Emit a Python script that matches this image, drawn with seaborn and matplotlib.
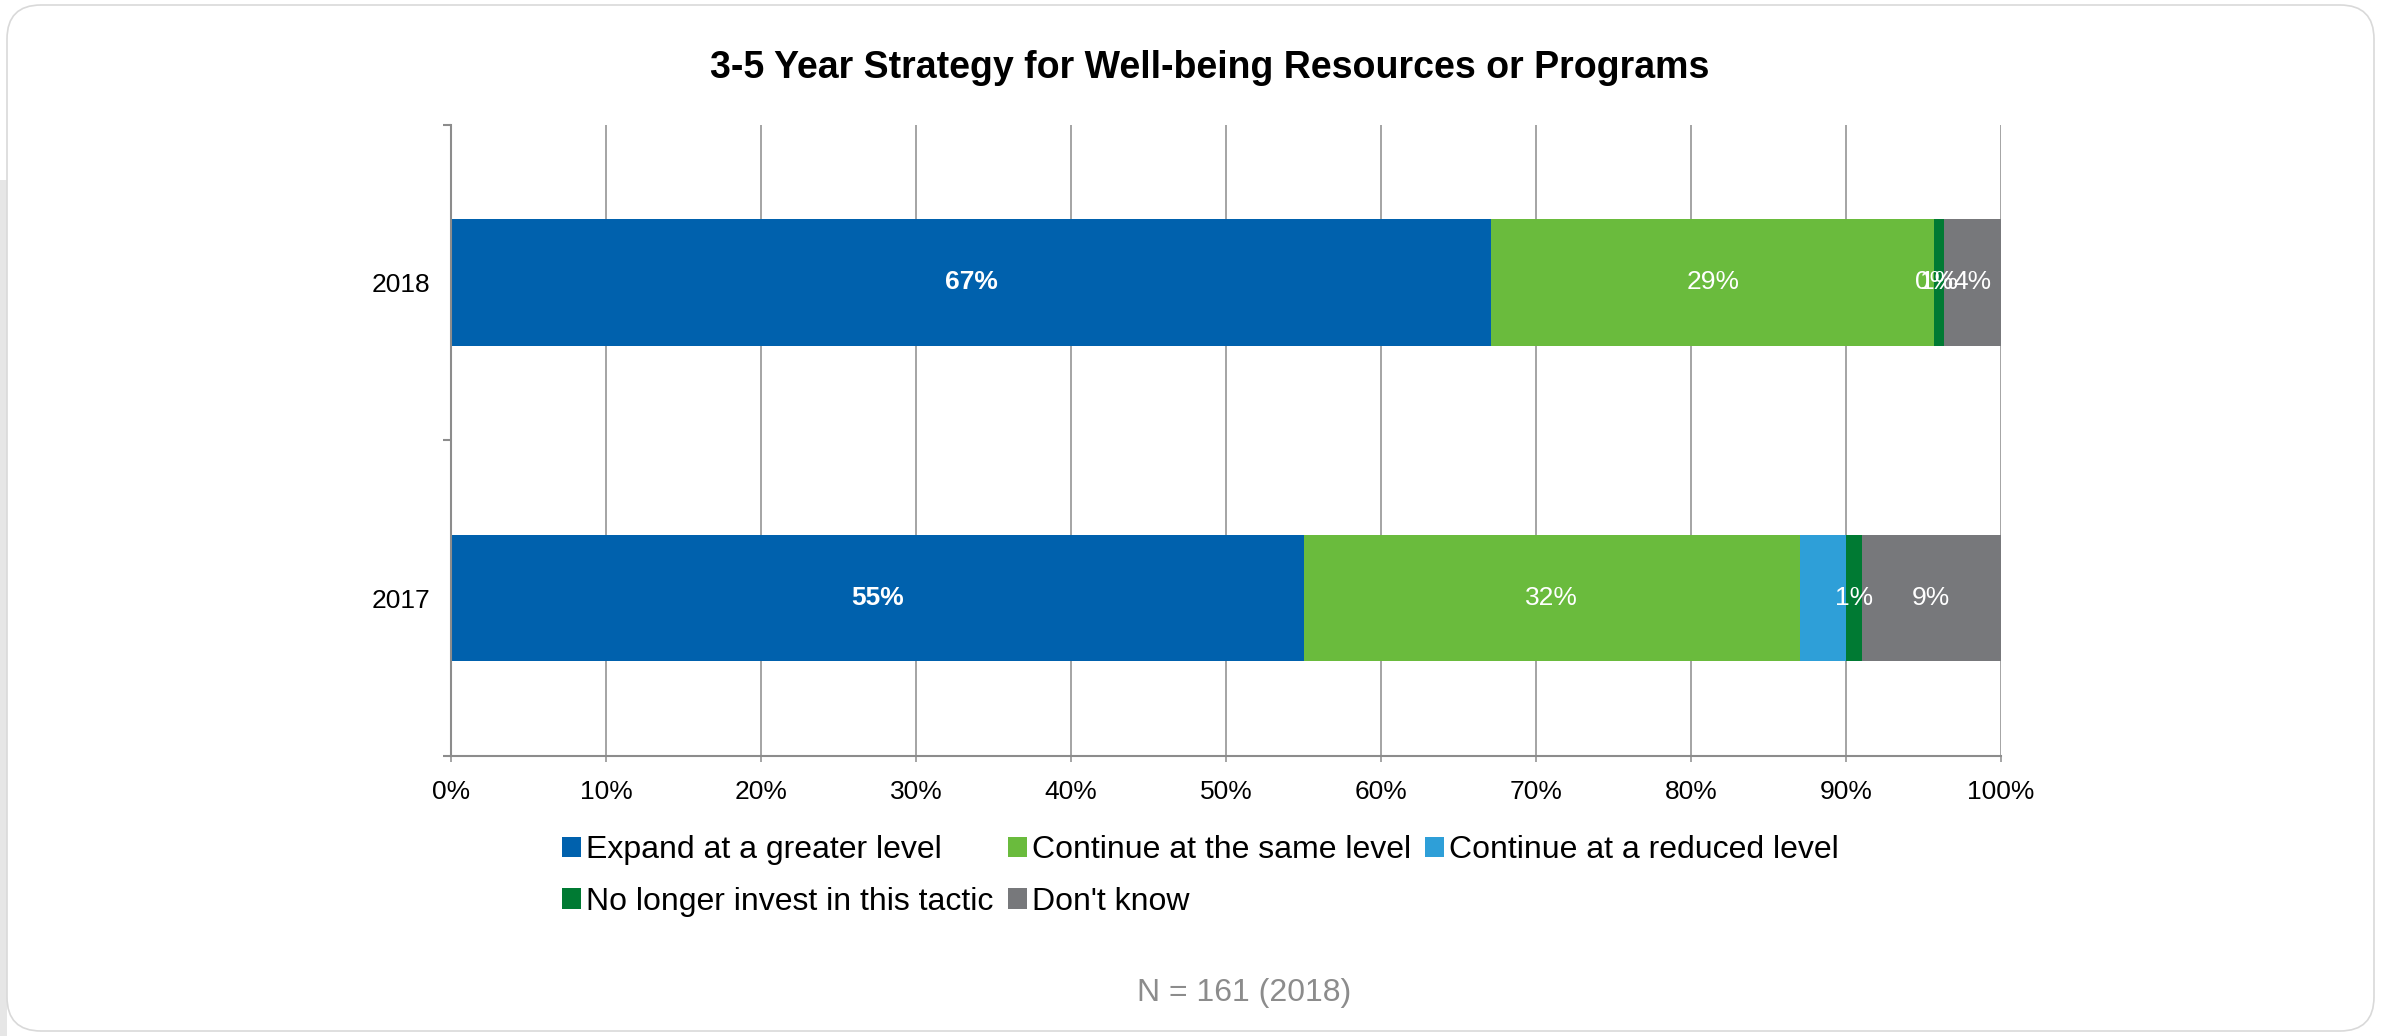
import numpy as np
import pandas as pd
import matplotlib
matplotlib.use("Agg")
import matplotlib.pyplot as plt
from matplotlib.patches import Patch, FancyBboxPatch, Rectangle
import seaborn as sns

# Data (percent of respondents)
YEARS = ["2018", "2017"]
SERIES = ["Expand at a greater level", "Continue at the same level",
          "Continue at a reduced level", "No longer invest in this tactic", "Don't know"]
EXPAND = [67.1, 55.0]
SAME = [28.6, 32.0]
REDUCED = [0.0, 3.0]
NO_LONGER = [0.6, 1.0]
DONT_KNOW = [3.7, 9.0]
LABELS_EXPAND = ["67%", "55%"]
LABELS_SAME = ["29%", "32%"]
LABELS_REDUCED = ["0%", ""]
LABELS_NO_LONGER = ["1%", "1%"]
LABELS_DONT_KNOW = ["4%", "9%"]
X_TICKS = [0, 10, 20, 30, 40, 50, 60, 70, 80, 90, 100]
COLORS = ["#0061AD", "#6ABB3D", "#2E9FD8", "#007A33", "#77787B"]
TITLE = "3-5 Year Strategy for Well-being Resources or Programs"
NOTE = "N = 161 (2018)"

sns.set_style("white")
plt.rcParams["font.family"] = ["Liberation Sans", "DejaVu Sans"]
plt.rcParams["text.color"] = "black"

df = pd.DataFrame({"Year": YEARS, SERIES[0]: EXPAND, SERIES[1]: SAME, SERIES[2]: REDUCED,
                   SERIES[3]: NO_LONGER, SERIES[4]: DONT_KNOW}).set_index("Year")
df_cum = df.cumsum(axis=1)
labels = pd.DataFrame({SERIES[0]: LABELS_EXPAND, SERIES[1]: LABELS_SAME, SERIES[2]: LABELS_REDUCED,
                       SERIES[3]: LABELS_NO_LONGER, SERIES[4]: LABELS_DONT_KNOW}, index=YEARS)

W, H = 2381, 1036
fig = plt.figure(figsize=(W / 100, H / 100), dpi=100)
fig.patch.set_facecolor("white")

# frame around the chart
fig.patches.append(Rectangle((0, 0), 7, 856, transform=None, facecolor="#E6E6E6",
                             edgecolor="none", zorder=-3))
fig.patches.append(FancyBboxPatch((7, 5), 2367, 1026, boxstyle="round,pad=0,rounding_size=34",
                                  transform=None, facecolor="white", edgecolor="#D9D9D9",
                                  linewidth=1.2, zorder=-2))

ax = fig.add_axes([451 / W, 1 - 756 / H, 1550 / W, 631.5 / H])
ax.set_zorder(1)
ax.set_facecolor("none")

# stacked bars: draw cumulative totals from the widest down
for s, c in zip(SERIES[::-1], COLORS[::-1]):
    d = df_cum[[s]].reset_index()
    sns.barplot(data=d, x=s, y="Year", order=YEARS, orient="h", color=c, saturation=1,
                width=0.4, ax=ax, zorder=2, edgecolor="none")

# value labels
for i, yr in enumerate(YEARS):
    for j, s in enumerate(SERIES):
        txt = labels.loc[yr, s]
        if not txt:
            continue
        xc = df_cum.loc[yr, s] - df.loc[yr, s] / 2
        ax.text(xc, i, txt, ha="center", va="center", color="white", fontsize=19,
                fontweight="bold" if j == 0 else "normal", zorder=3)

ax.set_xlim(0, 100)
ax.set_ylim(1.5, -0.5)
ax.set_xticks(X_TICKS)
ax.set_xticklabels([f"{t}%" for t in X_TICKS])
ax.set_yticks(range(len(YEARS)))
ax.set_yticklabels(YEARS)
ax.set_yticks([-0.5, 0.5, 1.5], minor=True)
ax.set_xlabel("")
ax.set_ylabel("")
ax.grid(axis="x", color="#8C8C8C", linewidth=1.1, zorder=0)
ax.set_axisbelow(True)
for side in ["top", "right"]:
    ax.spines[side].set_visible(False)
for side in ["left", "bottom"]:
    ax.spines[side].set_color("#8C8C8C")
    ax.spines[side].set_linewidth(1.5)
ax.tick_params(axis="y", which="major", length=0, pad=15, labelsize=19, labelcolor="black")
ax.tick_params(axis="y", which="minor", left=True, length=6, width=1.5, color="#8C8C8C")
ax.tick_params(axis="x", which="major", bottom=True, length=4, width=1.1, color="#8C8C8C",
               pad=13, labelsize=19, labelcolor="black")

# legend, row-major order as in the original
order = [0, 3, 1, 4, 2]
handles = [Patch(facecolor=COLORS[k], edgecolor="none") for k in order]
leg = fig.legend(handles, [SERIES[k] for k in order], ncol=3, loc="upper left",
                 bbox_to_anchor=(562 / W, 1 - 835 / H), frameon=False, fontsize=23,
                 handlelength=0.6, handleheight=0.6, handletextpad=0.15, columnspacing=0.45,
                 labelspacing=0.68, borderpad=0, borderaxespad=0)
for t in leg.get_texts():
    t.set_color("black")

fig.text(1210 / W, 1 - 68 / H, TITLE, ha="center", va="center", fontsize=27,
         fontweight="bold", color="black")
fig.text(1244 / W, 1 - 993 / H, NOTE, ha="center", va="center", fontsize=23, color="#8C8C8C")

fig.savefig("out.png", dpi=100, facecolor="white")
